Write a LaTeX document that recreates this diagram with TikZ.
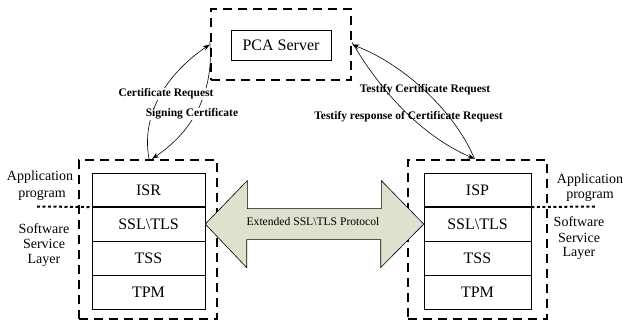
\documentclass[tikz,border=0pt]{standalone}
\usepackage{fontspec}
\setmainfont{Liberation Serif}
\usetikzlibrary{arrows.meta}
\definecolor{arrowfill}{RGB}{221,226,206}
\tikzset{
  dashbox/.style={draw, line width=2.4pt, dash pattern=on 9pt off 6pt, inner sep=0pt},
  layer/.style={draw, line width=0.6pt, minimum width=113pt, minimum height=33.5pt, inner sep=0pt, font=\fontsize{16}{18}\selectfont},
  srv/.style={draw, line width=0.6pt, minimum width=100pt, minimum height=30pt, inner sep=0pt, font=\fontsize{16}{18}\selectfont},
  side/.style={font=\fontsize{14}{16}\selectfont, inner sep=0pt},
  blabel/.style={font=\bfseries\fontsize{11.5}{13}\selectfont, inner sep=0pt},
  flow/.style={line width=0.6pt, -{Stealth[length=7pt,width=5pt]}},
  sep/.style={line width=2pt, dash pattern=on 3pt off 2.5pt}
}
\begin{document}
\begin{tikzpicture}[x=1pt,y=-1pt]
\useasboundingbox (0,0) rectangle (623,322);
% PCA
\node[dashbox, minimum width=140pt, minimum height=71pt] (pcabox) at (281,44.5) {};
\node[srv] (pca) at (281,45) {PCA Server};
% left stack
\node[dashbox, minimum width=138pt, minimum height=159pt] (lbox) at (148,239.5) {};
\node[layer] (lisr) at (148.5,190) {ISR};
\node[layer, anchor=north] (lssl) at (lisr.south) {SSL\textbackslash TLS};
\node[layer, anchor=north] (ltss) at (lssl.south) {TSS};
\node[layer, anchor=north] (ltpm) at (ltss.south) {TPM};
% right stack
\node[dashbox, minimum width=139pt, minimum height=159pt] (rbox) at (477.5,239.5) {};
\node[layer, minimum width=107pt] (risp) at (477.5,190) {ISP};
\node[layer, minimum width=107pt, anchor=north] (rssl) at (risp.south) {SSL\textbackslash TLS};
\node[layer, minimum width=107pt, anchor=north] (rtss) at (rssl.south) {TSS};
\node[layer, minimum width=107pt, anchor=north] (rtpm) at (rtss.south) {TPM};
% big double arrow
\path[fill=arrowfill, draw, line width=0.6pt]
  (lssl.east) -- ++(42,-43.5) -- ++(0,28) -- ++(134,0) -- ++(0,-28)
  -- (rssl.west) -- ++(-43,43.5) -- ++(0,-28) -- ++(-134,0) -- ++(0,28) -- cycle;
\node[font=\fontsize{11.6}{13}\selectfont, inner sep=0pt] (proto) at (313,222) {Extended SSL\textbackslash TLS Protocol};
% side labels left
\node[side] (lapp1) at (40,177) {Application};
\node[side] (lapp2) at (42,195) {program};
\node[side] (lsw1) at (44,229) {Software};
\node[side] (lsw2) at (44,244) {Service};
\node[side] (lsw3) at (44,260) {Layer};
\coordinate (lsep) at (37,206.5);
\draw[sep] (lsep) -- (lisr.south west);
% side labels right
\node[side] (rapp1) at (590,180) {Application};
\node[side] (rapp2) at (590,196.5) {program};
\node[side] (rsw1) at (579,222) {Software};
\node[side] (rsw2) at (579,238) {Service};
\node[side] (rsw3) at (579,253) {Layer};
\coordinate (rsep) at (595,206.5);
\draw[sep] (risp.south east) -- (rsep);
% curved connectors left
\coordinate (pl) at (pcabox.west);
\coordinate (lt) at ([xshift=1pt]lbox.north);
\draw[flow] (lt) .. controls (140,110) and (172,70) .. (pl);
\draw[flow] ([yshift=3pt]pl) .. controls (214,90) and (195,130) .. ([xshift=3pt]lt);
\node[blabel, fill=white, inner sep=0.5pt] (cr) at (166,94) {Certificate Request};
\node[blabel, fill=white, inner sep=0.5pt] (sc) at (192,114) {Signing Certificate};
% curved connectors right
\coordinate (pr) at (pcabox.east);
\coordinate (rt) at ([xshift=-3pt]rbox.north);
\draw[flow] (rt) .. controls (455,112) and (405,65) .. (pr);
\draw[flow] ([yshift=2pt]pr) .. controls (380,90) and (420,135) .. (rt);
\node[blabel] (tcr) at (425,90) {Testify Certificate Request};
\node[blabel] (trc) at (408.5,117) {Testify response of Certificate Request};
\end{tikzpicture}
\end{document}
